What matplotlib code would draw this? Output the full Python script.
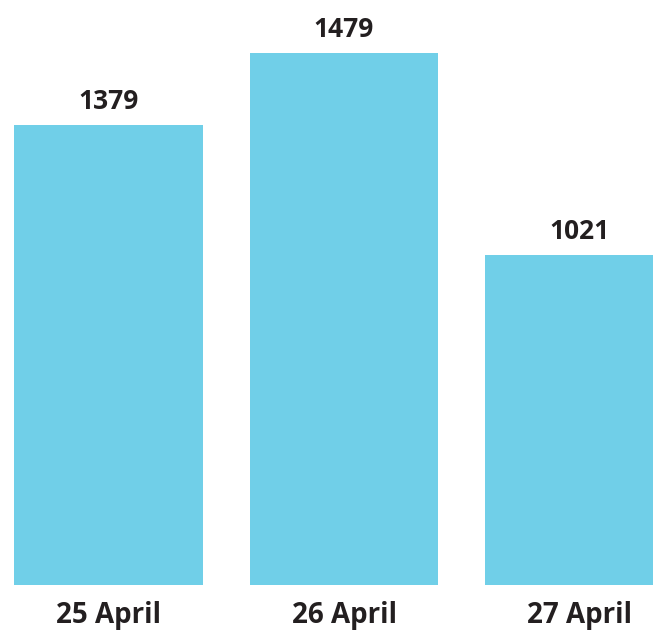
import matplotlib
matplotlib.use("Agg")
import matplotlib.pyplot as plt

# ---------------------------
# data
# ---------------------------
days = ["25 April", "26 April", "27 April"]
counts = [1379, 1479, 1021]
# the source graphic is not drawn to scale, so bar heights are read off the picture
bar_heights = [1379, 1595, 989]

bar_color = "#70CFE8"
text_color = "#231F20"
plt.rcParams["font.family"] = ["Open Sans", "DejaVu Sans"]

# ---------------------------
# figure
# ---------------------------
fig = plt.figure(figsize=(6.53, 6.32), dpi=100)
ax = fig.add_axes([0, 47 / 632, 1, 585 / 632])

x = range(len(days))
ax.bar(x, bar_heights, width=0.8, color=bar_color)

ax.set_xlim(-0.4607, 2.312)
ax.set_ylim(0, 1379 * 585 / 460)

for i, (h, c) in enumerate(zip(bar_heights, counts)):
    ax.annotate(str(c), (i, h), xytext=(0, 11.5), textcoords="offset points",
                ha="center", va="baseline", fontsize=19, fontweight="bold",
                color=text_color)
    ax.annotate(days[i], (i, 0), xycoords=("data", "axes fraction"),
                xytext=(0, -27.5), textcoords="offset points",
                ha="center", va="baseline", fontsize=20, fontweight="bold",
                color=text_color, annotation_clip=False)

ax.axis("off")
fig.savefig("out.png", dpi=100)
